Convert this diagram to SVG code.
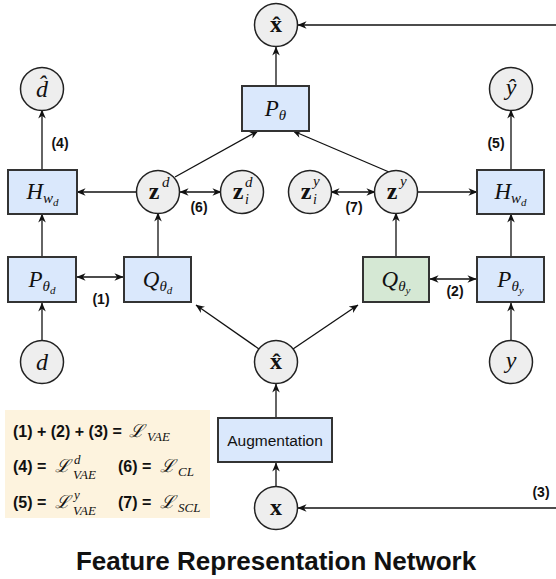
<svg xmlns="http://www.w3.org/2000/svg" width="556" height="579" viewBox="0 0 556 579">
<style>
.box{fill:#dae8fc;stroke:#333;stroke-width:2}
.gbox{fill:#d5e8d4;stroke:#333;stroke-width:2}
.node circle{fill:#eeeeee;stroke:#222;stroke-width:1.5}
.m{font-family:"Liberation Serif","DejaVu Serif",serif;fill:#111}
.mi{font-style:italic}
.mb{font-weight:bold}
.lbl{font-family:"Liberation Sans",Arial,sans-serif;font-weight:bold;font-size:14px;fill:#111}
.leg{font-family:"Liberation Sans",Arial,sans-serif;font-weight:bold;font-size:16px;fill:#111}
.cal{font-family:"DejaVu Serif",serif;font-style:italic;font-size:18px;fill:#111}
.sub{font-family:"Liberation Serif",serif;font-style:italic;font-size:13px;fill:#111}
#connectors line{stroke:#111;stroke-width:1.3;fill:none}
.a{marker-end:url(#ah)}
.aa{marker-end:url(#ah);marker-start:url(#ah)}
</style>
<defs>
<marker id="ah" viewBox="0 0 10 10" refX="9.5" refY="5" markerWidth="9" markerHeight="9" markerUnits="userSpaceOnUse" orient="auto-start-reverse">
<path d="M0,0.8 L10,5 L0,9.2 L3,5 z" fill="#111"/>
</marker>
</defs>
<rect width="556" height="579" fill="#fff"/>

<g id="connectors">
<line class="a" x1="276" y1="86" x2="276" y2="47"/>
<line class="a" x1="556" y1="25" x2="298" y2="25"/>
<line class="a" x1="175" y1="177" x2="258" y2="131"/>
<line class="a" x1="389" y1="172" x2="293" y2="131"/>
<line class="a" x1="137" y1="192" x2="77" y2="192"/>
<line class="aa" x1="180" y1="192" x2="221" y2="192"/>
<line class="aa" x1="331" y1="192" x2="375" y2="192"/>
<line class="a" x1="417" y1="192" x2="477" y2="192"/>
<line class="a" x1="42" y1="170" x2="42" y2="110"/>
<line class="a" x1="511" y1="170" x2="511" y2="110"/>
<line class="a" x1="42" y1="257" x2="42" y2="214"/>
<line class="a" x1="158" y1="257" x2="158" y2="213"/>
<line class="aa" x1="77" y1="277" x2="123" y2="277"/>
<line class="a" x1="396" y1="257" x2="396" y2="213"/>
<line class="a" x1="511" y1="257" x2="511" y2="214"/>
<line class="aa" x1="430" y1="279" x2="476" y2="279"/>
<line class="a" x1="42" y1="341" x2="42" y2="303"/>
<line class="a" x1="511" y1="341" x2="511" y2="303"/>
<line class="a" x1="259" y1="349" x2="196" y2="305"/>
<line class="a" x1="293" y1="349" x2="358" y2="305"/>
<line class="a" x1="276" y1="418" x2="276" y2="384"/>
<line class="a" x1="276" y1="487" x2="276" y2="463"/>
<line class="a" x1="556" y1="508" x2="298" y2="508"/>
</g>

<g id="labels">
<text class="lbl" x="60" y="148" text-anchor="middle">(4)</text>
<text class="lbl" x="496" y="148" text-anchor="middle">(5)</text>
<text class="lbl" x="199" y="212" text-anchor="middle">(6)</text>
<text class="lbl" x="354" y="212" text-anchor="middle">(7)</text>
<text class="lbl" x="101" y="304" text-anchor="middle">(1)</text>
<text class="lbl" x="455" y="296" text-anchor="middle">(2)</text>
<text class="lbl" x="541" y="497" text-anchor="middle" font-size="13">(3)</text>
</g>

<g id="xhat_top" class="node"><circle cx="276" cy="25" r="21.5"/><text class="m mb" x="276" y="32" font-size="24" text-anchor="middle">x̂</text></g>
<g id="dhat" class="node"><circle cx="42" cy="89" r="21.5"/><text class="m mi" x="42" y="97" font-size="24" text-anchor="middle">d̂</text></g>
<g id="yhat" class="node"><circle cx="511" cy="89" r="21.5"/><text class="m mi" x="511" y="95" font-size="24" text-anchor="middle">ŷ</text></g>
<g id="zd" class="node"><circle cx="158" cy="192" r="21.5"/><text class="m mb" x="154" y="199" font-size="24" text-anchor="middle">z</text><text class="m mi" x="162" y="187" font-size="15">d</text></g>
<g id="zid" class="node"><circle cx="242" cy="192" r="21.5"/><text class="m mb" x="238" y="199" font-size="24" text-anchor="middle">z</text><text class="m mi" x="245" y="187" font-size="15">d</text><text class="m mi" x="245" y="204" font-size="14">i</text></g>
<g id="ziy" class="node"><circle cx="310" cy="192" r="21.5"/><text class="m mb" x="306" y="199" font-size="24" text-anchor="middle">z</text><text class="m mi" x="313" y="186" font-size="15">y</text><text class="m mi" x="313" y="204" font-size="14">i</text></g>
<g id="zy" class="node"><circle cx="396" cy="192" r="21.5"/><text class="m mb" x="392" y="199" font-size="24" text-anchor="middle">z</text><text class="m mi" x="400" y="186" font-size="15">y</text></g>
<g id="d" class="node"><circle cx="42" cy="362" r="21.5"/><text class="m mi" x="42" y="370" font-size="24" text-anchor="middle">d</text></g>
<g id="xhat_mid" class="node"><circle cx="276" cy="362" r="21.5"/><text class="m mb" x="276" y="369" font-size="24" text-anchor="middle">x̂</text></g>
<g id="y" class="node"><circle cx="511" cy="362" r="21.5"/><text class="m mi" x="511" y="368" font-size="24" text-anchor="middle">y</text></g>
<g id="x" class="node"><circle cx="276" cy="508" r="21.5"/><text class="m mb" x="276" y="515" font-size="24" text-anchor="middle">x</text></g>

<g id="P_theta"><rect class="box" x="242" y="86" width="67" height="45"/><text class="m mi" x="275.5" y="116" font-size="23" text-anchor="middle">P<tspan font-size="15" dy="4">θ</tspan></text></g>
<g id="H_left"><rect class="box" x="8" y="170" width="69" height="44"/><text class="m mi" x="42.5" y="199" font-size="23" text-anchor="middle">H<tspan font-size="15" dy="4">w</tspan><tspan font-size="11" dy="3">d</tspan></text></g>
<g id="H_right"><rect class="box" x="477" y="170" width="67" height="44"/><text class="m mi" x="510.5" y="199" font-size="23" text-anchor="middle">H<tspan font-size="15" dy="4">w</tspan><tspan font-size="11" dy="3">d</tspan></text></g>
<g id="P_theta_d"><rect class="box" x="8" y="257" width="68" height="45"/><text class="m mi" x="42" y="287" font-size="23" text-anchor="middle">P<tspan font-size="15" dy="4">θ</tspan><tspan font-size="11" dy="3">d</tspan></text></g>
<g id="Q_theta_d"><rect class="box" x="124" y="257" width="67" height="45"/><text class="m mi" x="157.5" y="287" font-size="23" text-anchor="middle">Q<tspan font-size="15" dy="4">θ</tspan><tspan font-size="11" dy="3">d</tspan></text></g>
<g id="Q_theta_y"><rect class="gbox" x="363" y="257" width="66" height="45"/><text class="m mi" x="396" y="287" font-size="23" text-anchor="middle">Q<tspan font-size="15" dy="4">θ</tspan><tspan font-size="11" dy="3">y</tspan></text></g>
<g id="P_theta_y"><rect class="box" x="477" y="257" width="67" height="45"/><text class="m mi" x="510.5" y="287" font-size="23" text-anchor="middle">P<tspan font-size="15" dy="4">θ</tspan><tspan font-size="11" dy="3">y</tspan></text></g>
<g id="augmentation"><rect class="box" x="218" y="418" width="114" height="44"/><text x="275" y="446" font-family="Liberation Sans,Arial,sans-serif" font-size="15.5" fill="#111" text-anchor="middle">Augmentation</text></g>

<g id="legend">
<rect x="5" y="410" width="205" height="108" fill="#fdf3de"/>
<text class="leg" x="13" y="437">(1) + (2) + (3) =</text>
<text class="cal" x="129" y="437">ℒ</text><text class="sub" x="147" y="441">VAE</text>
<text class="leg" x="13" y="472">(4) =</text>
<text class="cal" x="55" y="472">ℒ</text><text class="sub" x="74" y="464">d</text><text class="sub" x="73" y="479">VAE</text>
<text class="leg" x="118" y="472">(6) =</text>
<text class="cal" x="160" y="472">ℒ</text><text class="sub" x="178" y="476">CL</text>
<text class="leg" x="13" y="508">(5) =</text>
<text class="cal" x="55" y="508">ℒ</text><text class="sub" x="74" y="499">y</text><text class="sub" x="73" y="515">VAE</text>
<text class="leg" x="118" y="508">(7) =</text>
<text class="cal" x="160" y="508">ℒ</text><text class="sub" x="178" y="512">SCL</text>
</g>

<text id="title" x="276" y="570" font-family="Liberation Sans,Arial,sans-serif" font-weight="bold" font-size="26" fill="#111" text-anchor="middle">Feature Representation Network</text>
</svg>
